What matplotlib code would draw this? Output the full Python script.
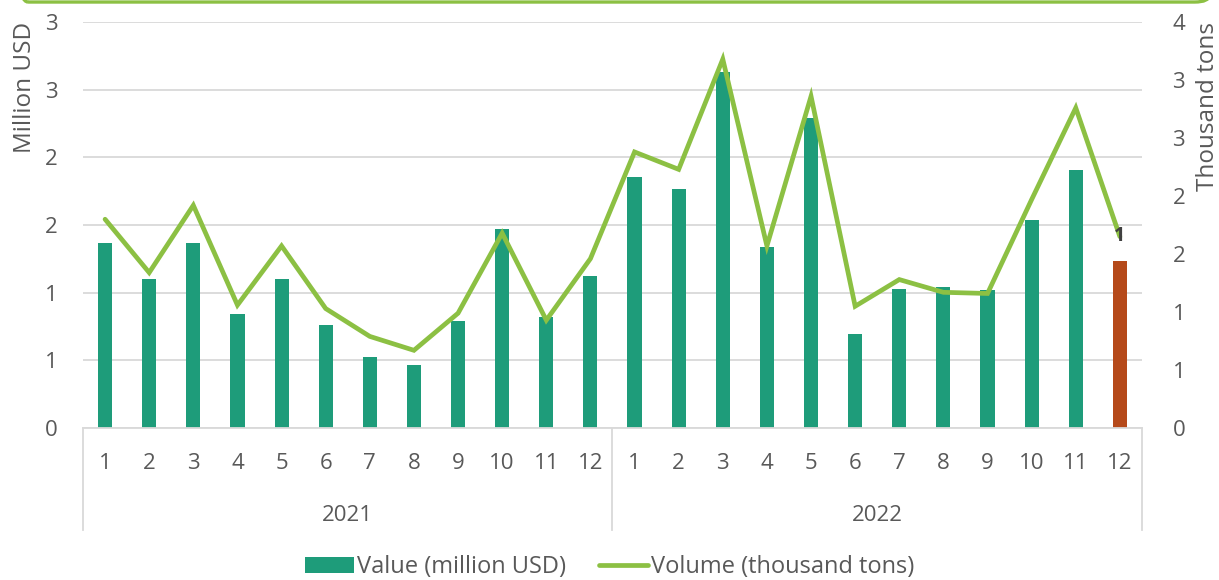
import matplotlib.pyplot as plt
import numpy as np
from matplotlib.patches import FancyBboxPatch
from matplotlib.ticker import FixedLocator, FuncFormatter

plt.rcParams["font.family"] = ["Open Sans", "DejaVu Sans"]

months = [str(m) for m in range(1, 13)] * 2
years = ["2021", "2022"]
value = [1.37, 1.10, 1.37, 0.84, 1.10, 0.76, 0.525, 0.465, 0.79, 1.47, 0.82, 1.12,
         1.855, 1.77, 2.63, 1.34, 2.29, 0.695, 1.03, 1.04, 1.02, 1.54, 1.91, 1.235]
volume = [1.80, 1.34, 1.92, 1.06, 1.57, 1.03, 0.79, 0.67, 0.99, 1.68, 0.93, 1.46,
          2.38, 2.23, 3.18, 1.57, 2.86, 1.05, 1.28, 1.17, 1.16, 1.97, 2.76, 1.65]

bar_green = "#1E9C7A"
bar_last = "#B5491A"
line_green = "#8CC043"
txt = "#595959"
grid = "#D9D9D9"

fig = plt.figure(figsize=(12.19, 5.8), dpi=100)
# bottom edge of the rounded box above the chart
frame = FancyBboxPatch((0.011, 0.9965), 0.981, 0.2, boxstyle="round,pad=0,rounding_size=0.012",
                       transform=fig.transFigure, fill=False, edgecolor=line_green, linewidth=2.4)
fig.patches.append(frame)

ax = fig.add_axes([0.0681, 0.262, 0.8687, 0.700])
x = np.arange(len(value))
colors = [bar_green] * (len(value) - 1) + [bar_last]
ax.bar(x, value, width=0.32, color=colors, zorder=2, label="Value (million USD)")
ax.set_xlim(-0.5, len(value) - 0.5)
ax.set_ylim(0, 3)
ax.yaxis.set_major_locator(FixedLocator(np.arange(0, 3.01, 0.5)))
ax.yaxis.set_major_formatter(FuncFormatter(lambda v, p: "%d" % int(v + 0.5)))
ax.grid(axis="y", color=grid, linewidth=1.3, zorder=0)
ax.set_axisbelow(True)
for s in ["top", "right", "left"]:
    ax.spines[s].set_visible(False)
ax.spines["bottom"].set_color(grid)
ax.spines["bottom"].set_linewidth(1.3)
ax.set_xticks(x)
ax.set_xticklabels(months)
ax.tick_params(axis="x", length=0, pad=18, labelsize=16, labelcolor=txt)
ax.tick_params(axis="y", length=0, pad=18, labelsize=16, labelcolor=txt)
ax.set_ylabel("Million USD", fontsize=17.5, color=txt, labelpad=6, loc="top")

# category group separators and year labels
for xb in [0, 0.5, 1]:
    ax.plot([xb, xb], [0, -0.25], transform=ax.transAxes, color=grid, linewidth=1.3, clip_on=False)
for i, yr in enumerate(years):
    ax.text(0.25 + 0.5 * i, -0.215, yr, transform=ax.transAxes, ha="center", va="center",
            fontsize=16, color=txt)

ax2 = ax.twinx()
ax2.plot(x, volume, color=line_green, linewidth=3.4, solid_joinstyle="miter",
         solid_capstyle="round", zorder=3, label="Volume (thousand tons)")
ax2.set_ylim(0, 3.5)
ax2.yaxis.set_major_locator(FixedLocator(np.arange(0, 3.51, 0.5)))
ax2.yaxis.set_major_formatter(FuncFormatter(lambda v, p: "%d" % int(v + 0.5)))
for s in ax2.spines.values():
    s.set_visible(False)
ax2.tick_params(axis="y", length=0, pad=22, labelsize=16, labelcolor=txt)
ax2.set_ylabel("Thousand tons", fontsize=17.5, color=txt, labelpad=8, loc="top")

ax2.annotate("1", (x[-1], value[-1]), xycoords=ax.transData, xytext=(0, 11),
             textcoords="offset points", ha="center", va="bottom", fontsize=14,
             fontweight="bold", color="#404040", zorder=5)

h1, l1 = ax.get_legend_handles_labels()
h2, l2 = ax2.get_legend_handles_labels()
fig.legend(h1 + h2, l1 + l2, loc="center", bbox_to_anchor=(0.5, 0.022), ncol=2, frameon=False,
           fontsize=17, labelcolor=txt, handlelength=2.1, handletextpad=0.1, columnspacing=1.4)

fig.savefig("out.png", dpi=100)
